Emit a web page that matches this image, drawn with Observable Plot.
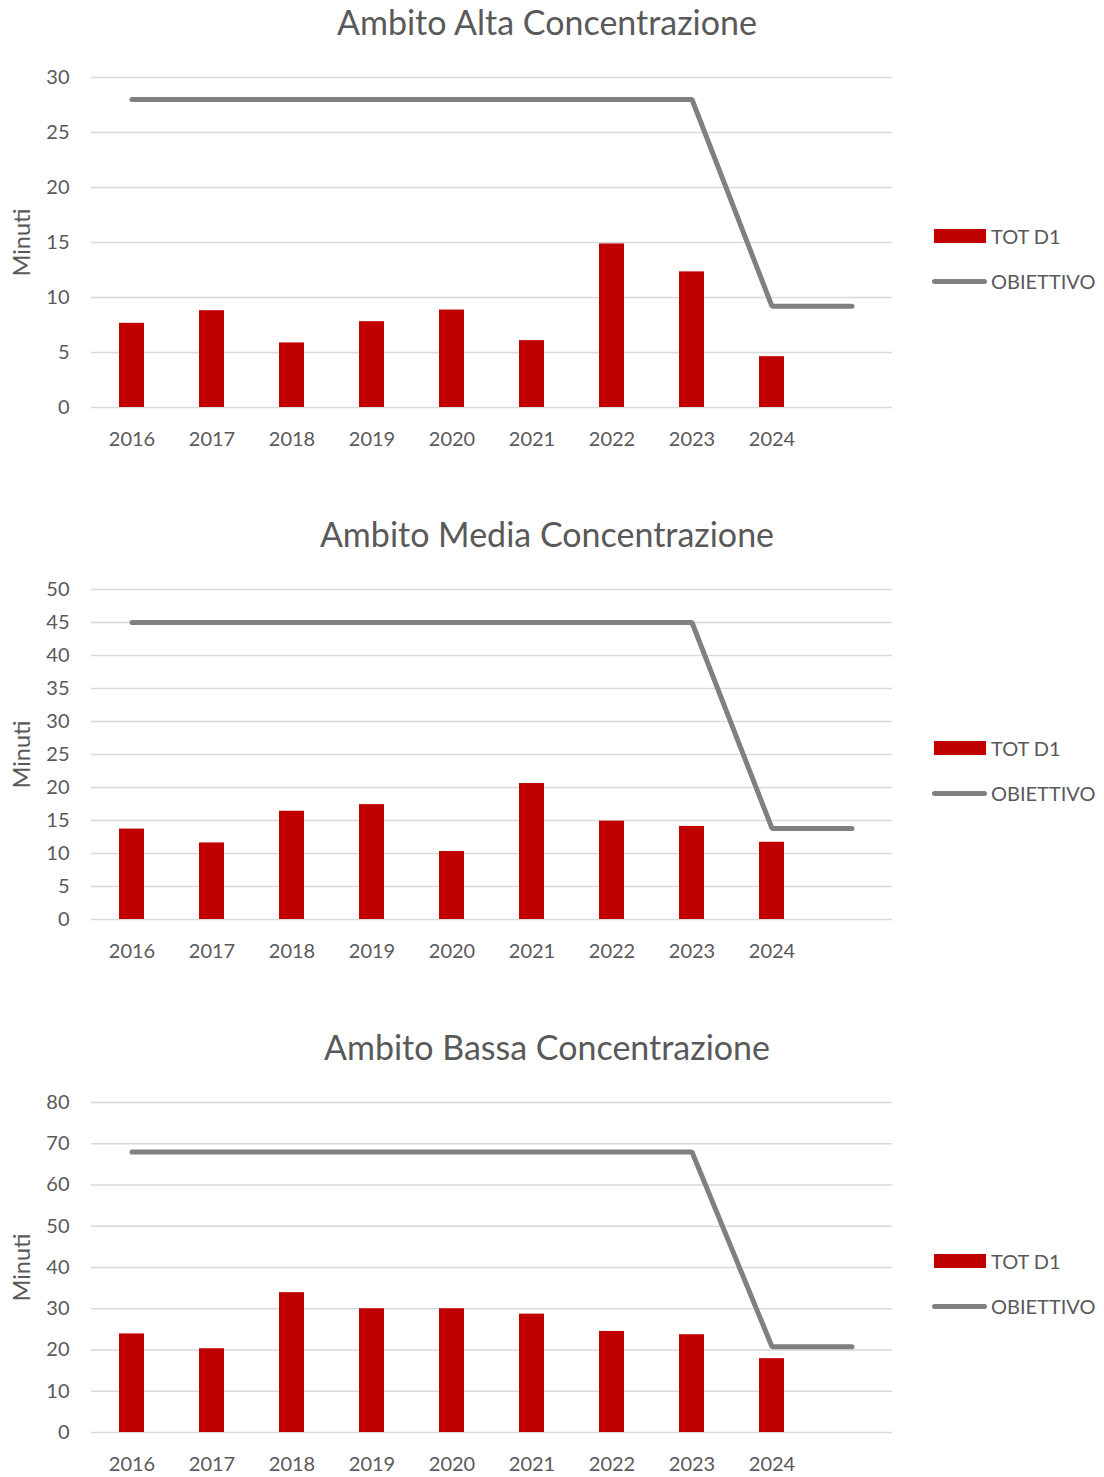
<!DOCTYPE html>
<html>
<head>
<meta charset="utf-8">
<script src="https://cdn.jsdelivr.net/npm/d3@7"></script>
<script src="https://cdn.jsdelivr.net/npm/@observablehq/plot@0.6"></script>
<style>
  html, body { margin: 0; padding: 0; background: #fff; }
  #root { position: relative; width: 1104px; height: 1477px; background: #fff; font-family: Lato, "Open Sans", sans-serif; color: #595959; overflow: hidden; }
  .title { position: absolute; left: 0; width: 1094px; text-align: center; font-size: 34px; line-height: 44px; color: #595959; }
  .chart { position: absolute; left: 0; }
  .leg-rect { position: absolute; left: 934px; width: 52px; height: 14px; background: #C00000; }
  .leg-line { position: absolute; left: 932px; width: 55px; height: 5px; border-radius: 3px; background: #808080; }
  .leg-text { position: absolute; left: 991px; font-size: 20px; line-height: 24px; color: #595959; }
</style>
</head>
<body>
<div id="root"></div>
<script>
// Categories
const years = ["2016", "2017", "2018", "2019", "2020", "2021", "2022", "2023", "2024", ""];
const barYears = ["2016", "2017", "2018", "2019", "2020", "2021", "2022", "2023", "2024"];

// Titles
const titles = ["Ambito Alta Concentrazione", "Ambito Media Concentrazione", "Ambito Bassa Concentrazione"];

// Series: TOT D1 (bars)
const altaTot = [7.65, 8.8, 5.87, 7.8, 8.86, 6.08, 14.87, 12.33, 4.62];
const mediaTot = [13.7, 11.6, 16.4, 17.4, 10.3, 20.6, 14.9, 14.1, 11.7];
const bassaTot = [23.9, 20.3, 33.9, 30.0, 30.0, 28.7, 24.5, 23.7, 17.9];

// Series: OBIETTIVO (line)
const altaObiettivo = [28, 28, 28, 28, 28, 28, 28, 28, 9.2, 9.2];
const mediaObiettivo = [45, 45, 45, 45, 45, 45, 45, 45, 13.8, 13.8];
const bassaObiettivo = [68, 68, 68, 68, 68, 68, 68, 68, 20.8, 20.8];

// Y axis ticks
const altaTicks = [0, 5, 10, 15, 20, 25, 30];
const mediaTicks = [0, 5, 10, 15, 20, 25, 30, 35, 40, 45, 50];
const bassaTicks = [0, 10, 20, 30, 40, 50, 60, 70, 80];

const legendLabels = ["TOT D1", "OBIETTIVO"];
const yLabel = "Minuti";

const panels = [
  {title: titles[0], tot: altaTot, obj: altaObiettivo, ticks: altaTicks, top: 0},
  {title: titles[1], tot: mediaTot, obj: mediaObiettivo, ticks: mediaTicks, top: 512},
  {title: titles[2], tot: bassaTot, obj: bassaObiettivo, ticks: bassaTicks, top: 1025}
];

const root = document.getElementById("root");
const font = "Lato, 'Open Sans', sans-serif";

for (const p of panels) {
  const barData = barYears.map((year, i) => ({year, value: p.tot[i]}));
  const lineData = years.map((year, i) => ({year, value: p.obj[i]}));
  const yMax = p.ticks[p.ticks.length - 1];

  const title = document.createElement("div");
  title.className = "title";
  title.style.top = (p.top + 0) + "px";
  title.textContent = p.title;
  root.appendChild(title);

  const chart = Plot.plot({
    width: 1104,
    height: 430,
    marginLeft: 91,
    marginRight: 212,
    marginTop: 27,
    marginBottom: 73,
    style: {fontFamily: font, background: "transparent", color: "#595959", overflow: "visible"},
    x: {type: "band", domain: years, paddingInner: 0.69, paddingOuter: 0.345, axis: null},
    y: {domain: [0, yMax], axis: null},
    marks: [
      Plot.gridY(p.ticks, {stroke: "#d9d9d9", strokeOpacity: 1, strokeWidth: 1.5}),
      Plot.axisY(p.ticks, {tickSize: 0, tickPadding: 22, fontSize: 20, fill: "#595959", label: null}),
      Plot.axisX({tickSize: 0, tickPadding: 24, fontSize: 20, fill: "#595959", label: null}),
      Plot.barY(barData, {x: "year", y: "value", fill: "#C00000"}),
      Plot.line(lineData, {x: "year", y: "value", stroke: "#808080", strokeWidth: 5, strokeLinecap: "round", strokeLinejoin: "miter"}),
      Plot.text([yLabel], {frameAnchor: "left", dx: -69, rotate: -90, textAnchor: "middle", fontSize: 23.5, fill: "#595959"})
    ]
  });
  chart.classList.add("chart");
  chart.style.top = (p.top + 50) + "px";
  root.appendChild(chart);

  const r = document.createElement("div");
  r.className = "leg-rect";
  r.style.top = (p.top + 229) + "px";
  root.appendChild(r);
  const t1 = document.createElement("div");
  t1.className = "leg-text";
  t1.style.top = (p.top + 224) + "px";
  t1.textContent = legendLabels[0];
  root.appendChild(t1);

  const l = document.createElement("div");
  l.className = "leg-line";
  l.style.top = (p.top + 278.5) + "px";
  root.appendChild(l);
  const t2 = document.createElement("div");
  t2.className = "leg-text";
  t2.style.top = (p.top + 269) + "px";
  t2.textContent = legendLabels[1];
  root.appendChild(t2);
}
</script>
</body>
</html>
